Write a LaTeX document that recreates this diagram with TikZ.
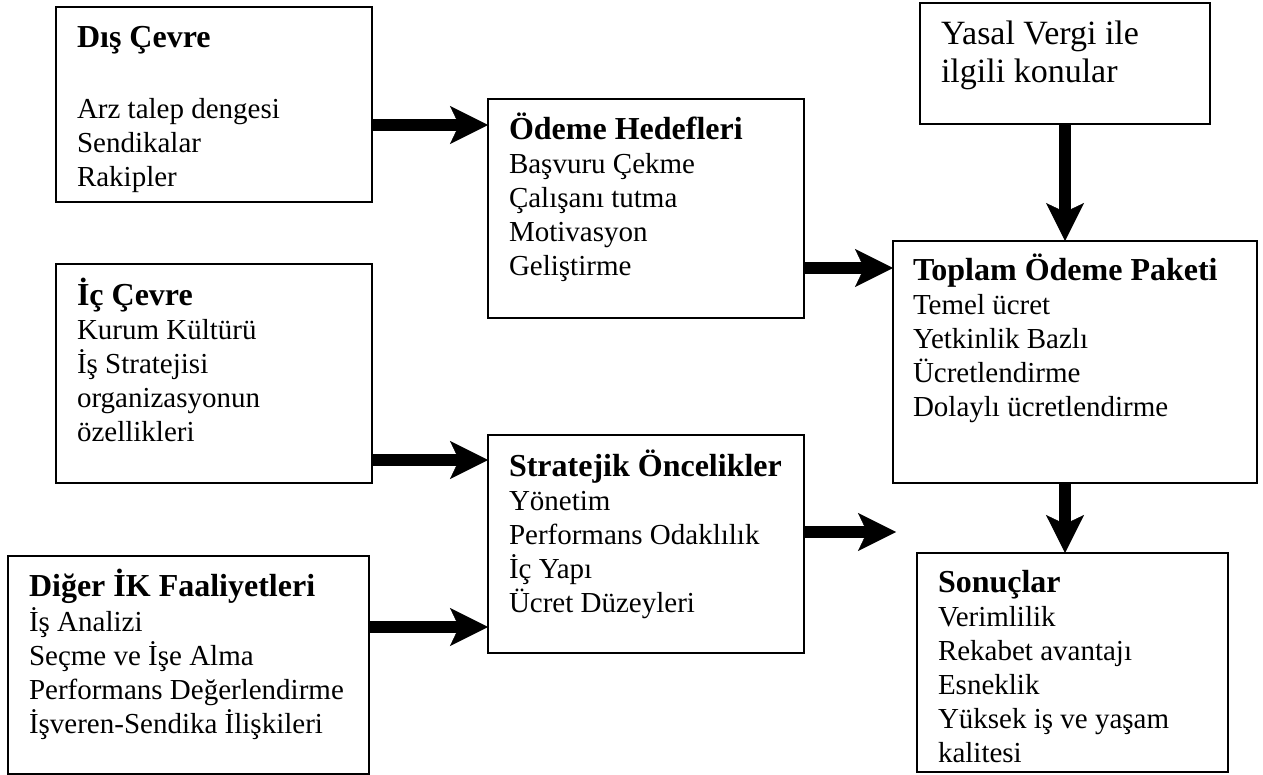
\documentclass[tikz,border=0pt]{standalone}
\usepackage{fontspec}
\setmainfont{Liberation Serif}
\usetikzlibrary{arrows.meta}

% bold, slightly larger box titles
\newcommand{\boxtitle}[1]{\smash{{\fontsize{32}{34}\selectfont\bfseries #1}}}

\tikzset{
  panel/.style={draw=black, line width=1.5pt, fill=white, inner sep=0pt, outer sep=0pt,
                anchor=north west},
  txt/.style={inner sep=0pt, outer sep=0pt, anchor=north west, yshift=23.8pt,
              align=left, font=\fontsize{29}{34}\selectfont},
  bigtxt/.style={inner sep=0pt, outer sep=0pt, anchor=north west, yshift=26.6pt,
              align=left, font=\fontsize{34}{38}\selectfont},
  bigarrow/.style={line width=12pt,
                   -{Stealth[length=38pt, width=38pt, inset=9pt, line width=0.5pt]}}
}

\begin{document}
\begin{tikzpicture}[x=1pt, y=-1pt]
\useasboundingbox (0,0) rectangle (1263,775);

% boxes
\node[panel, minimum width=316pt, minimum height=195pt] (dis)    at (56,7)    {};
\node[panel, minimum width=316pt, minimum height=219pt] (odeme)  at (488,99)  {};
\node[panel, minimum width=290pt, minimum height=121pt] (yasal)  at (920,3)   {};
\node[panel, minimum width=364pt, minimum height=242pt] (toplam) at (893,241) {};
\node[panel, minimum width=316pt, minimum height=219pt] (ic)     at (56,264)  {};
\node[panel, minimum width=316pt, minimum height=218pt] (strat)  at (488,435) {};
\node[panel, minimum width=361pt, minimum height=218pt] (diger)  at (8,556)   {};
\node[panel, minimum width=311pt, minimum height=219pt] (sonuc)  at (917,553) {};

% box contents (positioned by first baseline)
\node[txt] (distxt) at (77,48)
  {\strut\boxtitle{Dış Çevre}\\ \\[3pt] Arz talep dengesi\\ Sendikalar\\ Rakipler};
\node[txt] (odemetxt) at (509,140)
  {\strut\boxtitle{Ödeme Hedefleri}\\ Başvuru Çekme\\ Çalışanı tutma\\ Motivasyon\\ Geliştirme};
\node[bigtxt] (yasaltxt) at (941,45)
  {\strut Yasal Vergi ile\\ ilgili konular};
\node[txt] (toplamtxt) at (913,280)
  {\strut\boxtitle{Toplam Ödeme Paketi}\\ Temel ücret\\ Yetkinlik Bazlı\\ Ücretlendirme\\ Dolaylı ücretlendirme};
\node[txt] (ictxt) at (77,305)
  {\strut\boxtitle{İç Çevre}\\ Kurum Kültürü\\ İş Stratejisi\\ organizasyonun\\ özellikleri};
\node[txt] (strattxt) at (509,476)
  {\strut\boxtitle{Stratejik Öncelikler}\\ Yönetim\\ Performans Odaklılık\\ İç Yapı\\ Ücret Düzeyleri};
\node[txt] (digertxt) at (29,596)
  {\strut\boxtitle{Diğer İK Faaliyetleri}\\ İş Analizi\\ Seçme ve İşe Alma\\ Performans Değerlendirme\\ İşveren-Sendika İlişkileri};
\node[txt] (sonuctxt) at (938,592)
  {\strut\boxtitle{Sonuçlar}\\ Verimlilik\\ Rekabet avantajı\\ Esneklik\\ Yüksek iş ve yaşam\\ kalitesi};

% connector levels
\coordinate (ya) at (0,125);
\coordinate (yb) at (0,460);
\coordinate (yc) at (0,627);
\coordinate (yd) at (0,268);
\coordinate (ye) at (0,532);
\coordinate (xv) at (1065,0);
\coordinate (sfree) at (896,532);

% connectors
\draw[bigarrow] (dis.east |- ya)   -- (odeme.west |- ya);
\draw[bigarrow] (ic.east |- yb)    -- (strat.west |- yb);
\draw[bigarrow] (diger.east |- yc) -- (strat.west |- yc);
\draw[bigarrow] (odeme.east |- yd) -- (toplam.west |- yd);
\draw[bigarrow] (strat.east |- ye) -- (sfree);
\draw[bigarrow] (xv |- yasal.south)  -- (xv |- toplam.north);
\draw[bigarrow] (xv |- toplam.south) -- (xv |- sonuc.north);
\end{tikzpicture}
\end{document}
